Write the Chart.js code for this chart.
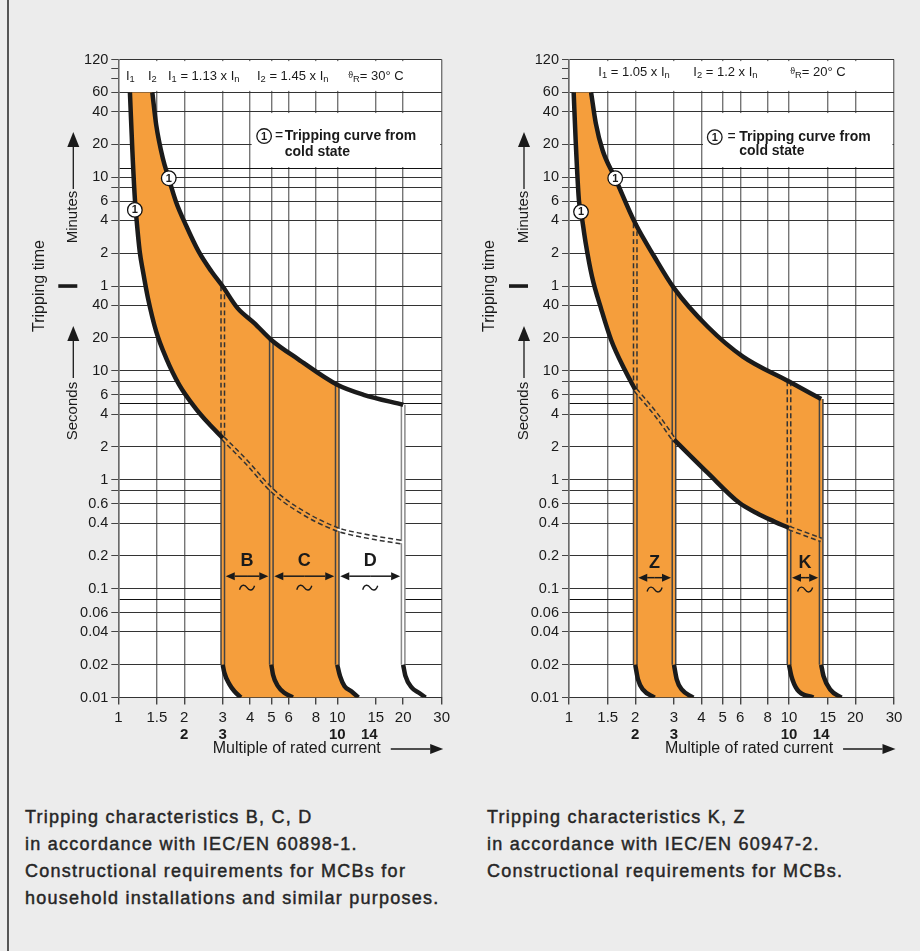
<!DOCTYPE html>
<html><head><meta charset="utf-8">
<script src="https://cdn.jsdelivr.net/npm/chart.js@4/dist/chart.umd.min.js"></script>
<style>
html,body{margin:0;padding:0;background:#ececec;}
body{width:920px;height:951px;position:relative;overflow:hidden;font-family:"Liberation Sans",Arial,sans-serif;}
#vline{position:absolute;left:7px;top:0;width:2px;height:951px;background:#555;}
.cw{position:absolute;top:0;width:460px;height:770px;}
.cw canvas{display:block;}
.cap{position:absolute;top:804px;font-size:18px;line-height:27px;letter-spacing:1.25px;color:#262626;-webkit-text-stroke:0.45px #262626;white-space:nowrap;}
</style></head>
<body>
<div id="vline"></div>
<div class="cw" style="left:0"><canvas id="c1" width="460" height="770"></canvas></div>
<div class="cw" style="left:460px"><canvas id="c2" width="460" height="770"></canvas></div>
<div class="cap" style="left:25px">Tripping characteristics B, C, D<br>in accordance with IEC/EN 60898-1.<br>Constructional requirements for MCBs for<br>household installations and similar purposes.</div>
<div class="cap" style="left:487px">Tripping characteristics K, Z<br>in accordance with IEC/EN 60947-2.<br>Constructional requirements for MCBs.</div>
<script>
// ================= DATA (x = multiple of rated current, y = time in seconds) =================
const xTickValues = [1, 1.5, 2, 3, 4, 5, 6, 8, 10, 15, 20, 30];
const xTickLabels = ['1', '1.5', '2', '3', '4', '5', '6', '8', '10', '15', '20', '30'];
const xBoldValues = [2, 3, 10, 14];
const xBoldLabels = ['2', '3', '10', '14'];
const yTickSeconds = [0.01, 0.02, 0.04, 0.06, 0.08, 0.1, 0.2, 0.4, 0.6, 0.8, 1, 2, 4, 5, 6, 8, 10, 20, 40,
  60, 120, 240, 360, 480, 600, 720, 1200, 2400, 3600, 4800, 6000, 7200];
const yTickLabels = ['0.01', '0.02', '0.04', '0.06', '', '0.1', '0.2', '0.4', '0.6', '', '1', '2', '4', '', '6', '', '10', '20', '40',
  '1', '2', '4', '6', '', '10', '', '20', '40', '60', '', '', '120'];
const yUnmarked = [0.08, 5, 720];
const yHidden = [4800, 6000];

// ---- Characteristics B, C, D ----
const bcdLower = [[1.13, 3600], [1.16, 1028], [1.19, 384], [1.218, 218], [1.253, 124], [1.297, 81.5], [1.366, 46.5],
  [1.49, 22.9], [1.654, 13.1], [1.898, 7.44], [2.25, 4.55], [2.576, 3.31], [3, 2.41]];
const bcdUpper = [[1.43, 3600], [1.49, 1807], [1.597, 894], [1.699, 586], [1.834, 357], [2.035, 218], [2.33, 124],
  [2.665, 81.5], [3, 59.4], [3.505, 37.6], [4.18, 27.4], [5, 19.2], [6.62, 12.8], [10, 7.44], [13.2, 6.02], [20, 4.88]];
const bcdLowerDashed = [[3, 2.41], [3.89, 1.42], [5, 0.81], [6.62, 0.53], [10, 0.35], [13.2, 0.306], [20, 0.265]];
const bcdBottom3 = [[3, 0.02], [3.05, 0.0169], [3.22, 0.0132], [3.39, 0.0114], [3.63, 0.01]];
const bcdBottom5 = [[5, 0.02], [5.09, 0.0162], [5.36, 0.0127], [5.75, 0.011], [6.27, 0.01]];
const bcdBottom10 = [[10, 0.02], [10.3, 0.0157], [10.8, 0.0127], [11.6, 0.0114], [12.5, 0.01]];
const bcdBottom20 = [[20, 0.02], [20.5, 0.0157], [21.9, 0.0123], [23.7, 0.011], [25.3, 0.01]];
const bcdBands = [[3, 5], [5, 10], [10, 20]];
const bcdBandLabels = ['B', 'C', 'D'];
const bcdColdMarks = [[1.19, 300], [1.7, 586]];

// ---- Characteristics K, Z ----
const kzLower = [[1.05, 3600], [1.072, 1316], [1.109, 371], [1.134, 288], [1.191, 148.6], [1.272, 73.3], [1.404, 36.3],
  [1.554, 19.2], [1.792, 10.2], [2, 6.7]];
const kzLowerDashedZ = [[2, 6.7], [2.525, 3.81], [3, 2.33]];
const kzLowerMid = [[3, 2.33], [3.58, 1.64], [4.26, 1.16], [5.96, 0.61], [7.12, 0.495], [8.2, 0.43], [10, 0.36]];
const kzLowerDashedK = [[10, 0.36], [14, 0.28]];
const kzUpper = [[1.26, 3600], [1.324, 1872], [1.42, 1066], [1.622, 586], [2, 226], [2.44, 112],
  [3, 57.4], [4.26, 25.5], [6.17, 13.5], [10, 7.98], [14, 5.5]];
const kzBottom2 = [[2, 0.02], [2.06, 0.0146], [2.17, 0.0118], [2.45, 0.01]];
const kzBottom3 = [[3, 0.02], [3.09, 0.0146], [3.26, 0.0118], [3.67, 0.01]];
const kzBottom10 = [[10, 0.02], [10.25, 0.0157], [10.9, 0.0118], [12.9, 0.01]];
const kzBottom14 = [[14, 0.02], [14.35, 0.0157], [15.4, 0.0118], [17.3, 0.01]];
const kzBands = [[2, 3], [10, 14]];
const kzBandLabels = ['Z', 'K'];
const kzColdMarks = [[1.134, 288], [1.622, 586]];

// ================= STYLE / HELPERS =================
const ORANGE = '#f59e3c';
const INK = '#1a1a1a';
const FONT = '"Liberation Sans", Arial, Helvetica, sans-serif';

const pts = a => a.map(p => ({x: p[0], y: p[1]}));
const rev = a => a.slice().reverse();
const yAt = (a, x) => a.find(p => p[0] === x)[1];
const BASE_T = bcdBottom3[0][1]; // 0.02 s level where the vertical band edges end

function polyDS(data, color, order) {
  return {data: pts(data), showLine: true, borderWidth: 0, borderColor: 'rgba(0,0,0,0)', backgroundColor: color,
    pointRadius: 0, tension: 0, fill: 'shape', order};
}
function curveDS(data) {
  return {data: pts(data), showLine: true, borderColor: '#1b1b1b', borderWidth: 4.5, pointRadius: 0,
    cubicInterpolationMode: 'monotone', fill: false, order: 50, borderCapStyle: 'butt'};
}
function doubleDS(data, outer, inner, dashed, order) {
  const innerDS = {data: pts(data), showLine: true, borderWidth: 2, pointRadius: 0, cubicInterpolationMode: 'monotone',
    fill: false, order: order - 1};
  if (typeof inner === 'function') { innerDS.borderColor = ORANGE; innerDS.segment = {borderColor: inner}; }
  else innerDS.borderColor = inner;
  return [
    {data: pts(data), showLine: true, borderColor: outer, borderWidth: 5, borderDash: dashed ? [5, 3] : [], pointRadius: 0,
      cubicInterpolationMode: 'monotone', fill: false, order},
    innerDS
  ];
}
function marksDS(data) {
  return {data: pts(data), showLine: false, pointRadius: 7.3, pointBackgroundColor: '#fff', pointBorderColor: '#111',
    pointBorderWidth: 1.3, order: 10, isMarks: true};
}

function richText(ctx, x0, y0, parts, size) {
  let cx = x0;
  for (const [t, kind] of parts) {
    let sz = size, dy = 0;
    if (kind === 's') { sz = size * 0.72; dy = size * 0.3; }
    else if (kind === 't') { sz = size * 0.72; dy = -0.5; }
    ctx.font = sz + 'px ' + FONT;
    ctx.fillText(t, cx, y0 + dy);
    cx += ctx.measureText(t).width;
  }
}
function arrow(ctx, x0, y0, x1, y1, head, half) {
  const ang = Math.atan2(y1 - y0, x1 - x0);
  const bx = x1 - head * Math.cos(ang), by = y1 - head * Math.sin(ang);
  ctx.beginPath(); ctx.moveTo(x0, y0); ctx.lineTo(bx, by); ctx.stroke();
  ctx.beginPath(); ctx.moveTo(x1, y1);
  ctx.lineTo(bx + half * Math.sin(ang), by - half * Math.cos(ang));
  ctx.lineTo(bx - half * Math.sin(ang), by + half * Math.cos(ang));
  ctx.closePath(); ctx.fill();
}
function vText(ctx, txt, x, y, font) {
  ctx.save(); ctx.translate(x, y); ctx.rotate(-Math.PI / 2);
  ctx.font = font; ctx.textAlign = 'center'; ctx.textBaseline = 'middle';
  ctx.fillText(txt, 0, 0); ctx.restore();
}

function makeDecor(d) {
  return {
    id: 'decor',
    beforeDraw(chart) {
      const {ctx, chartArea: a} = chart;
      ctx.save(); ctx.fillStyle = '#fff';
      ctx.fillRect(a.left, a.top, a.right - a.left, a.bottom - a.top); ctx.restore();
    },
    beforeDatasetsDraw(chart) {
      const {ctx, chartArea: a} = chart;
      const x = chart.scales.x, y = chart.scales.y;
      ctx.save(); ctx.fillStyle = '#fff';
      const hb = y.getPixelForValue(d.headerT);
      ctx.fillRect(a.left + 1.5, a.top + 1.5, a.right - a.left - 3, hb - a.top - 3);
      const lx0 = x.getPixelForValue(d.legendX[0]), lx1 = x.getPixelForValue(d.legendX[1]);
      const ly0 = y.getPixelForValue(d.legendT[0]), ly1 = y.getPixelForValue(d.legendT[1]);
      ctx.fillRect(lx0 + 1.5, ly0 + 1.5, lx1 - lx0 - 3, ly1 - ly0 - 3);
      ctx.restore();
    },
    afterDatasetsDraw(chart) {
      const {ctx, chartArea: a} = chart;
      const x = chart.scales.x, y = chart.scales.y;
      ctx.save();
      ctx.fillStyle = INK; ctx.strokeStyle = INK;
      ctx.textBaseline = 'middle';
      // "1" inside cold-state marks
      const mi = chart.data.datasets.findIndex(ds => ds.isMarks);
      ctx.font = 'bold 11px ' + FONT; ctx.textAlign = 'center';
      chart.getDatasetMeta(mi).data.forEach(p => ctx.fillText('1', p.x, p.y + 0.5));
      // header line
      const hy = (y.getPixelForValue(7200) + y.getPixelForValue(d.headerT)) / 2 + d.headerDy;
      ctx.textAlign = 'left';
      for (const [dx, parts] of d.header) richText(ctx, a.left + dx, hy, parts, 13);
      // legend box
      const lx = x.getPixelForValue(d.legendX[0]);
      const ly = y.getPixelForValue(d.legendT[0]);
      const c1 = ly + d.legend.l1, c2 = ly + d.legend.l2;
      ctx.beginPath(); ctx.arc(lx + d.legend.cdx, c1, 7.3, 0, Math.PI * 2);
      ctx.fillStyle = '#fff'; ctx.fill(); ctx.lineWidth = 1.3; ctx.stroke();
      ctx.fillStyle = INK; ctx.font = 'bold 11px ' + FONT; ctx.textAlign = 'center';
      ctx.fillText('1', lx + d.legend.cdx, c1 + 0.5);
      ctx.font = '14px ' + FONT; ctx.fillText('=', lx + d.legend.eqdx, c1);
      ctx.textAlign = 'left'; ctx.font = 'bold 14px ' + FONT;
      ctx.fillText('Tripping curve from', lx + d.legend.tdx, c1);
      ctx.fillText('cold state', lx + d.legend.tdx, c2);
      // band arrows / letters / tilde
      const ay = y.getPixelForValue(d.arrowT), lby = y.getPixelForValue(d.labelT), ty = y.getPixelForValue(d.tildeT);
      ctx.lineWidth = 1.5;
      d.bands.forEach((b, i) => {
        const x0 = x.getPixelForValue(b[0]), x1 = x.getPixelForValue(b[1]);
        const m = (x0 + x1) / 2;
        arrow(ctx, m, ay, x0 + 3, ay, 9, 4);
        arrow(ctx, m, ay, x1 - 3, ay, 9, 4);
        ctx.font = 'bold 18px ' + FONT; ctx.textAlign = 'center';
        ctx.fillText(d.bandLabels[i], m, lby);
        ctx.beginPath();
        ctx.moveTo(m - 7.5, ty + 2);
        ctx.bezierCurveTo(m - 5.5, ty - 4, m - 2, ty - 3, m, ty);
        ctx.bezierCurveTo(m + 2, ty + 3, m + 5.5, ty + 4, m + 7.5, ty - 2);
        ctx.lineWidth = 1.4; ctx.stroke();
        ctx.lineWidth = 1.5;
      });
      // y axis titles
      const yMin = y.getPixelForValue(60);
      vText(ctx, 'Tripping time', a.left - 79, yMin, '16px ' + FONT);
      vText(ctx, 'Minutes', a.left - 45.5, yMin - 69, '15px ' + FONT);
      vText(ctx, 'Seconds', a.left - 45.5, yMin + 125, '15px ' + FONT);
      ctx.lineWidth = 1.3;
      arrow(ctx, a.left - 45, yMin - 97, a.left - 45, yMin - 154, 15, 6);
      arrow(ctx, a.left - 45, yMin + 92, a.left - 45, yMin + 40, 15, 6);
      ctx.fillRect(a.left - 60, yMin - 1.8, 19, 3.6);
      // x axis title
      ctx.font = '16px ' + FONT; ctx.textAlign = 'left';
      const tx = a.left + d.xTitleDx, tyy = a.bottom + 51;
      const label = 'Multiple of rated current';
      ctx.fillText(label, tx, tyy);
      const w = ctx.measureText(label).width;
      arrow(ctx, tx + w + 10, tyy + 0.5, a.right + 1.5, tyy + 0.5, 13, 5);
      ctx.restore();
    }
  };
}

function buildChart(canvasId, spec) {
  return new Chart(document.getElementById(canvasId), {
    type: 'scatter',
    data: {datasets: spec.datasets},
    options: {
      responsive: false, animation: false, events: [],
      layout: {padding: {left: 0, right: spec.padRight, top: 59.6, bottom: 26.5}},
      plugins: {legend: {display: false}, tooltip: {enabled: false}},
      scales: {
        x: {type: 'logarithmic', position: 'bottom', min: 1, max: 30, weight: 0,
          afterBuildTicks: s => { s.ticks = xTickValues.map(v => ({value: v})); },
          afterFit: s => { s.height = 28; },
          grid: {color: '#767676', lineWidth: 1.4, tickColor: '#444', tickLength: 7},
          border: {color: '#333', width: 1},
          ticks: {autoSkip: false, maxRotation: 0, minRotation: 0, padding: 4, color: INK,
            font: {family: FONT, size: 15}, callback: (v, i) => xTickLabels[i]}},
        x2: {type: 'logarithmic', axis: 'x', position: 'bottom', min: 1, max: 30, weight: 1,
          afterBuildTicks: s => { s.ticks = xBoldValues.map(v => ({value: v})); },
          afterFit: s => { s.height = 18; },
          grid: {display: false, drawTicks: false}, border: {display: false},
          ticks: {autoSkip: false, maxRotation: 0, minRotation: 0, padding: 0, color: INK,
            font: {family: FONT, size: 15, weight: 'bold'}, callback: (v, i) => xBoldLabels[i]}},
        y: {type: 'logarithmic', position: 'left', min: 0.01, max: 7200,
          afterBuildTicks: s => { s.ticks = yTickSeconds.map(v => ({value: v})); },
          afterFit: s => { s.width = spec.axisLeft; },
          grid: {
            lineWidth: 1, tickLength: 7,
            color: c => !c.tick ? '#333' : yHidden.includes(c.tick.value) ? 'rgba(0,0,0,0)' :
              (yUnmarked.includes(c.tick.value) ? '#111' : '#333'),
            tickColor: c => !c.tick ? '#444' : yUnmarked.includes(c.tick.value) ? 'rgba(0,0,0,0)' : '#444'
          },
          border: {color: '#6a6a6a', width: 1.5},
          ticks: {autoSkip: false, padding: 3, color: INK, font: {family: FONT, size: 14.5},
            callback: (v, i) => yTickLabels[i]}}
      }
    },
    plugins: [makeDecor(spec.decor)]
  });
}

// ================= B, C, D chart =================
const bcdOrangePoly = bcdUpper.filter(p => p[0] <= 10).concat(bcdBottom10, rev(bcdBottom3), rev(bcdLower));
const bcdWhitePoly = bcdUpper.filter(p => p[0] >= 10).concat(bcdBottom20, rev(bcdBottom10));
const bcdDatasets = [
  polyDS(bcdOrangePoly, ORANGE, 100),
  polyDS(bcdWhitePoly, '#ffffff', 99),
  ...doubleDS([[3, yAt(bcdUpper, 3)], [3, yAt(bcdLower, 3)]], '#333', ORANGE, true, 90),
  ...doubleDS([[3, yAt(bcdLower, 3)], [3, BASE_T]], '#444', ORANGE, false, 90),
  ...doubleDS([[5, yAt(bcdUpper, 5)], [5, BASE_T]], '#444', ORANGE, false, 90),
  ...doubleDS([[10, yAt(bcdUpper, 10)], [10, BASE_T]], '#444', ORANGE, false, 90),
  ...doubleDS([[20, yAt(bcdUpper, 20)], [20, BASE_T]], '#8a8a8a', '#ffffff', false, 90),
  ...doubleDS(bcdLowerDashed, '#333', c => bcdLowerDashed[c.p0DataIndex][0] >= 10 ? '#ffffff' : ORANGE, true, 80),
  curveDS(bcdUpper), curveDS(bcdLower),
  curveDS(bcdBottom3), curveDS(bcdBottom5), curveDS(bcdBottom10), curveDS(bcdBottom20),
  marksDS(bcdColdMarks)
];
buildChart('c1', {
  axisLeft: 118.3, padRight: 18.3, datasets: bcdDatasets,
  decor: {
    headerT: 3600, headerDy: 0,
    header: [
      [7.7, [['I'], ['1', 's']]],
      [29.7, [['I'], ['2', 's']]],
      [49.7, [['I'], ['1', 's'], [' = 1.13 x '], ['I'], ['n', 's']]],
      [138.7, [['I'], ['2', 's'], [' = 1.45 x '], ['I'], ['n', 's']]],
      [229.7, [['\u03d1', 't'], ['R', 's'], ['= 30\u00b0 C']]]
    ],
    legendX: [4, 30], legendT: [2400, 720],
    legend: {cdx: 14, eqdx: 29, tdx: 34.6, l1: 24.5, l2: 40.5},
    bands: bcdBands, bandLabels: bcdBandLabels,
    arrowT: 0.13, labelT: 0.178, tildeT: 0.102,
    xTitleDx: 94.4
  }
});

// ================= K, Z chart =================
const kzOrangePoly = kzUpper.concat(kzBottom14, rev(kzBottom10), rev(kzLowerMid), kzBottom3, rev(kzBottom2), rev(kzLower));
const kzDatasets = [
  polyDS(kzOrangePoly, ORANGE, 100),
  ...doubleDS([[2, yAt(kzUpper, 2)], [2, yAt(kzLower, 2)]], '#333', ORANGE, true, 90),
  ...doubleDS([[2, yAt(kzLower, 2)], [2, BASE_T]], '#444', ORANGE, false, 90),
  ...doubleDS([[3, yAt(kzUpper, 3)], [3, BASE_T]], '#444', ORANGE, false, 90),
  ...doubleDS([[10, yAt(kzUpper, 10)], [10, yAt(kzLowerMid, 10)]], '#333', ORANGE, true, 90),
  ...doubleDS([[10, yAt(kzLowerMid, 10)], [10, BASE_T]], '#444', ORANGE, false, 90),
  ...doubleDS([[14, yAt(kzUpper, 14)], [14, BASE_T]], '#444', ORANGE, false, 90),
  ...doubleDS(kzLowerDashedZ, '#333', ORANGE, true, 80),
  ...doubleDS(kzLowerDashedK, '#333', ORANGE, true, 80),
  curveDS(kzUpper), curveDS(kzLower), curveDS(kzLowerMid),
  curveDS(kzBottom2), curveDS(kzBottom3), curveDS(kzBottom10), curveDS(kzBottom14),
  marksDS(kzColdMarks)
];
buildChart('c2', {
  axisLeft: 109, padRight: 26, datasets: kzDatasets,
  decor: {
    headerT: 3600, headerDy: -4,
    header: [
      [29.3, [['I'], ['1', 's'], [' = 1.05 x '], ['I'], ['n', 's']]],
      [124.3, [['I'], ['2', 's'], [' = 1.2 x '], ['I'], ['n', 's']]],
      [221, [['\u03d1', 't'], ['R', 's'], ['= 20\u00b0 C']]]
    ],
    legendX: [4, 30], legendT: [2400, 720],
    legend: {cdx: 13.3, eqdx: 30, tdx: 37.7, l1: 25.6, l2: 40},
    bands: kzBands, bandLabels: kzBandLabels,
    arrowT: 0.126, labelT: 0.172, tildeT: 0.098,
    xTitleDx: 96
  }
});
</script>
</body></html>
